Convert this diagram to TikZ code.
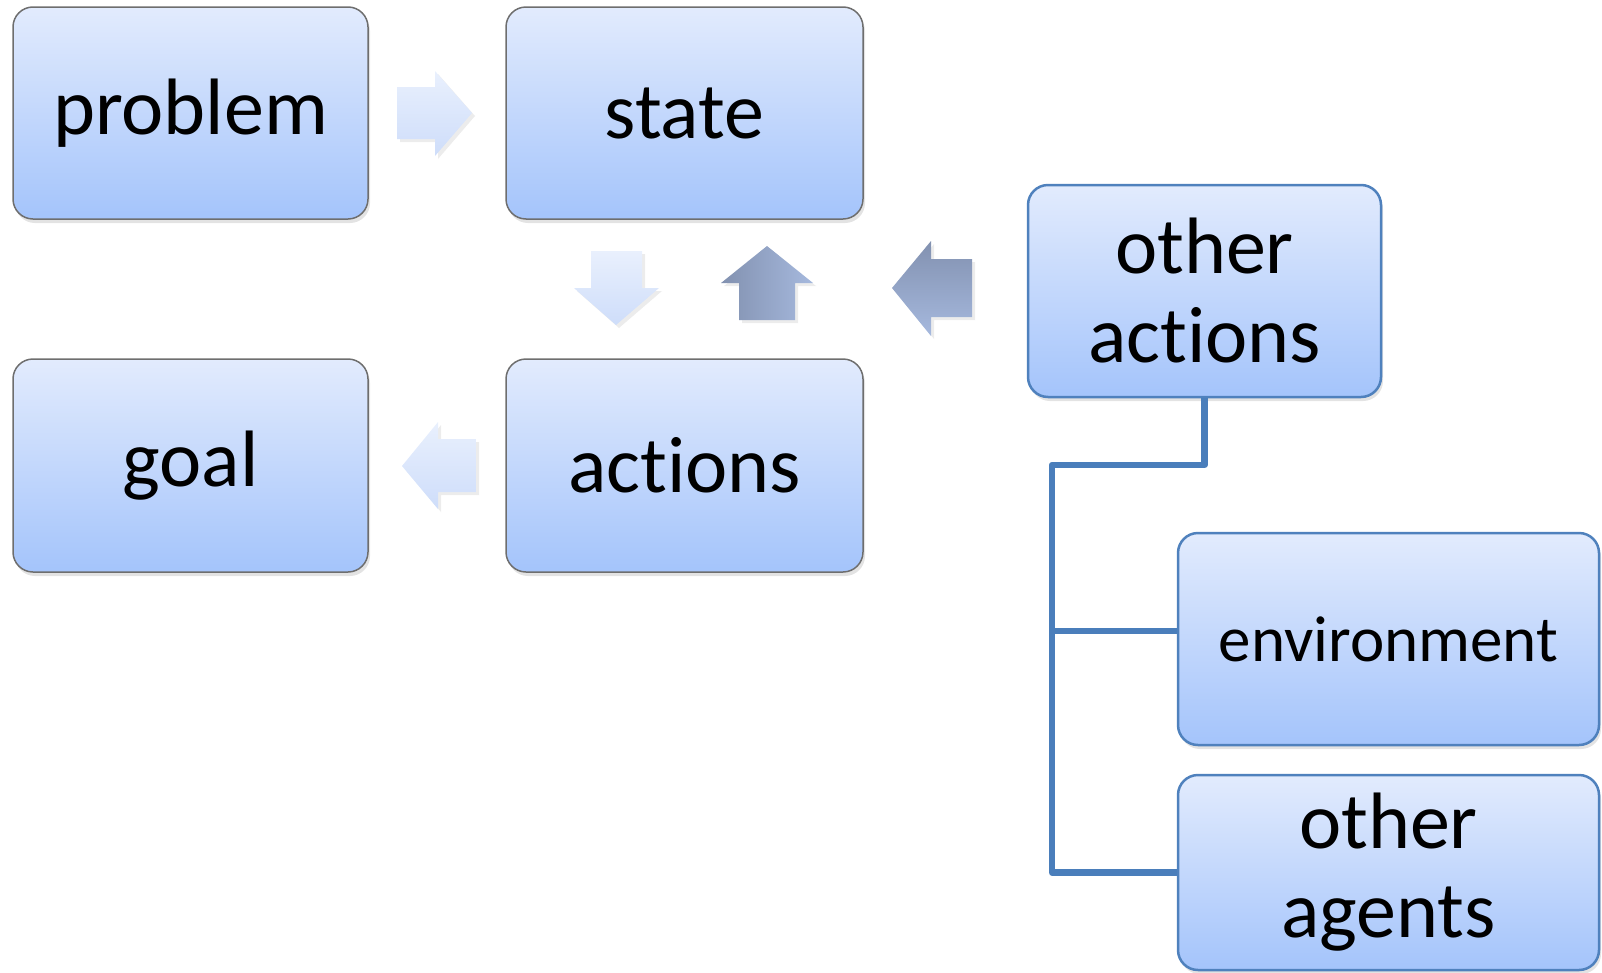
\documentclass[tikz,border=0pt]{standalone}
\usepackage{fontspec}
\setmainfont{Carlito}[Ligatures=NoCommon]
\usetikzlibrary{shadows}
\definecolor{boxtop}{RGB}{226,235,253}
\definecolor{boxbot}{RGB}{164,196,251}
\definecolor{grayedge}{RGB}{110,110,110}
\definecolor{blueedge}{RGB}{79,129,189}
\definecolor{conncol}{RGB}{74,126,187}
\definecolor{lighttop}{RGB}{233,240,253}
\definecolor{lightbot}{RGB}{206,221,250}
\definecolor{darkA}{RGB}{130,145,176}
\definecolor{darkB}{RGB}{166,185,222}
\tikzset{
  box/.style={rectangle, rounded corners=20pt, top color=boxtop, bottom color=boxbot,
    inner sep=0pt, align=center, text=black,
    font=\fontsize{80}{89}\selectfont,
    drop shadow={shadow xshift=2pt, shadow yshift=-4pt, opacity=0.22}},
  graybox/.style={box, draw=grayedge, line width=1.5pt},
  bluebox/.style={box, draw=blueedge, line width=2.5pt},
  lightarrow/.style={top color=lighttop, bottom color=lightbot,
    drop shadow={shadow xshift=3pt, shadow yshift=-3pt, opacity=0.15}},
  darkup/.style={left color=darkA, right color=darkB,
    drop shadow={shadow xshift=3pt, shadow yshift=-3pt, opacity=0.15}},
  darkleft/.style={top color=darkA, bottom color=darkB,
    drop shadow={shadow xshift=3pt, shadow yshift=-3pt, opacity=0.15}},
  conn/.style={draw=conncol, line width=6.5pt, line join=round, line cap=butt}
}
\begin{document}
\begin{tikzpicture}[x=1pt, y=-1pt]
\useasboundingbox (0,0) rectangle (1602,972);

% boxes
\node[graybox, minimum width=355pt, minimum height=212pt] (prob) at (190.5,113) {problem};
\node[graybox, minimum width=357pt, minimum height=212pt] (state) at (684.5,113) {state};
\node[graybox, minimum width=355pt, minimum height=213pt] (goal) at (190.5,465.5) {goal};
\node[graybox, minimum width=357pt, minimum height=213pt] (act) at (684.5,465.5) {actions};
\node[bluebox, minimum width=353pt, minimum height=212pt] (oa) at (1204.5,291) {other\\actions};
\node[bluebox, minimum width=421pt, minimum height=212pt, font=\fontsize{65}{72}\selectfont] (env) at (1388.5,639) {environment};
\node[bluebox, minimum width=421pt, minimum height=195pt] (ag) at (1388.5,872.5) {other\\agents};

% block arrows
% problem -> state
\path[lightarrow] (397,87) -- (435,87) -- (435,71) -- (472,113) -- (435,156) -- (435,139) -- (397,139) -- cycle;
% state -> actions (down)
\path[lightarrow] (591,251) -- (642,251) -- (642,288) -- (659,288) -- (616,325) -- (574,288) -- (591,288) -- cycle;
% actions -> state (up, dark)
\path[darkup] (739,320) -- (739,283) -- (721,283) -- (767,246) -- (813,283) -- (795,283) -- (795,320) -- cycle;
% other actions -> state (left, dark)
\path[darkleft] (972,259) -- (931,259) -- (931,241) -- (892,288) -- (931,336) -- (931,317) -- (972,317) -- cycle;
% actions -> goal (left, light)
\path[lightarrow] (476,439) -- (438,439) -- (438,422) -- (402,466) -- (438,509) -- (438,492) -- (476,492) -- cycle;

% tree connector
\coordinate (j2) at (1052,465);
\coordinate (j1) at (oa.south |- j2);
\coordinate (j3) at (1052,631);
\coordinate (j4) at (j2 |- ag.west);
\coordinate (envin) at (env.west |- j3);
\draw[conn] (oa.south) -- (j1) -- (j2) -- (j4) -- (ag.west);
\draw[conn] (j3) -- (envin);
\end{tikzpicture}
\end{document}
